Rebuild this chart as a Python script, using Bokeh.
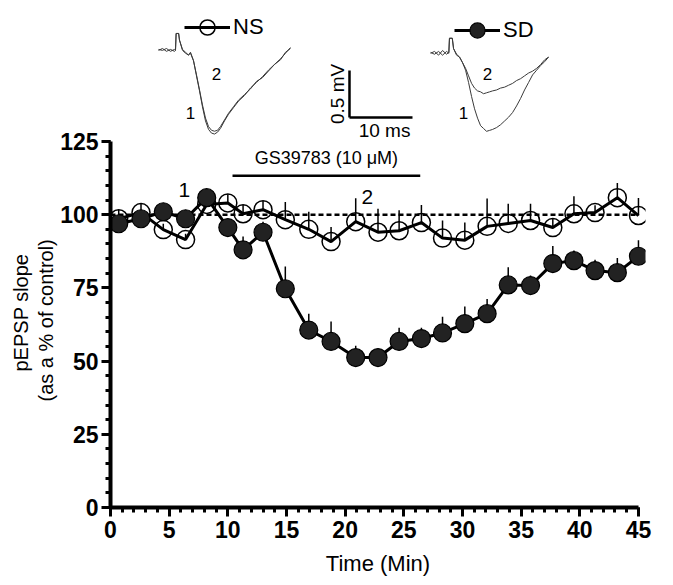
import math
from bokeh.plotting import figure
from bokeh.models import (Range1d, FixedTicker, Label, Legend, LegendItem,
                          ColumnDataSource, Title)
from bokeh.embed import file_html
from bokeh.resources import INLINE

# ---------------- data ----------------
TIME = [0.7, 2.6, 4.5, 6.4, 8.2, 10.0, 11.3, 13.0, 14.9, 16.9, 18.8, 20.9, 22.8,
        24.6, 26.5, 28.3, 30.2, 32.1, 33.9, 35.8, 37.7, 39.5, 41.3, 43.2, 45.0]
NS = [98.6, 100.7, 94.9, 91.5, 103.5, 104.0, 100.3, 101.7, 98.3, 95.0, 90.8, 97.6,
      94.0, 94.5, 97.3, 92.0, 91.3, 96.0, 97.0, 98.0, 95.6, 100.3, 100.7, 105.8, 99.7]
NS_SEM = [3, 3, 2, 2, 2, 3, 3, 3, 6, 6, 5, 8, 8, 7, 6, 6, 6, 9.5, 6.7, 5.7, 3, 6,
          2.5, 5, 6]
SD = [96.9, 98.6, 101.0, 98.6, 105.8, 95.6, 88.0, 94.0, 74.7, 60.6, 56.7, 51.2,
      51.2, 56.7, 57.7, 59.6, 62.8, 66.2, 76.0, 75.8, 83.3, 84.3, 80.9, 80.2, 85.8]
SD_SEM = [2, 2, 2, 2, 2, 2, 4.5, 3.6, 7.6, 5.6, 6.8, 4, 2, 4.7, 3.7, 5.5, 5.8, 5,
          6, 3.4, 6, 3.5, 3.7, 5, 5.5]

CONTROL = 100
DRUG_START, DRUG_END = 10.4, 26.4
DRUG_LABEL = "GS39783 (10 μM)"
Y_LABEL_1 = "pEPSP slope"
Y_LABEL_2 = "(as a % of control)"
X_LABEL = "Time (Min)"

# example traces (ms, mV)
NS_T = [0, 0.63, 1.27, 1.9, 2.54, 2.7, 2.8, 3.2, 3.33, 3.81, 4.29, 4.76, 5.08, 5.56,
        6.03, 6.51, 6.98, 7.46, 7.94, 8.41, 8.89, 9.37, 9.84, 10.48, 11.11, 11.9,
        12.7, 13.65, 14.6, 15.56, 16.51, 17.46, 18.41, 19.37, 20.16, 20.95]
NS_V1 = [0, 0.02, -0.01, 0.01, -0.01, 0.0, 0.18, 0.18, 0.11, 0.0, -0.03, -0.05,
         -0.02, -0.11, -0.27, -0.43, -0.6, -0.75, -0.84, -0.88, -0.89, -0.87, -0.83,
         -0.75, -0.68, -0.61, -0.54, -0.48, -0.4, -0.34, -0.28, -0.21, -0.15, -0.09,
         -0.03, 0.03]
NS_V2 = [0.01, 0.0, 0.02, -0.01, 0.01, 0.0, 0.18, 0.18, 0.11, 0.01, -0.02, -0.05,
         -0.03, -0.11, -0.26, -0.42, -0.58, -0.72, -0.81, -0.85, -0.86, -0.85, -0.81,
         -0.74, -0.67, -0.6, -0.53, -0.47, -0.41, -0.33, -0.29, -0.22, -0.15, -0.1,
         -0.02, 0.02]
SD_T = [0, 0.63, 1.27, 1.9, 2.54, 2.9, 3.0, 3.45, 3.65, 4.13, 4.6, 5.08, 5.56, 6.03,
        6.51, 6.98, 7.46, 7.94, 8.41, 8.89, 9.37, 9.84, 10.48, 11.11, 11.75, 12.38,
        13.02, 13.65, 14.29, 14.92, 15.56, 16.19, 16.83, 17.46, 18.1, 18.73]
SD_V1 = [0, 0.02, -0.02, 0.03, -0.01, 0.01, 0.16, 0.16, 0.05, -0.02, -0.04, -0.1,
         -0.18, -0.31, -0.46, -0.59, -0.69, -0.77, -0.8, -0.83, -0.82, -0.81, -0.79,
         -0.76, -0.72, -0.68, -0.63, -0.56, -0.48, -0.39, -0.31, -0.23, -0.18, -0.13,
         -0.09, -0.04]
SD_V2 = [0.01, -0.01, 0.02, -0.02, 0.02, 0.0, 0.16, 0.16, 0.05, -0.01, -0.04, -0.1,
         -0.16, -0.24, -0.32, -0.37, -0.4, -0.41, -0.43, -0.42, -0.41, -0.4, -0.39,
         -0.37, -0.36, -0.34, -0.32, -0.29, -0.27, -0.24, -0.21, -0.19, -0.16, -0.12,
         -0.07, -0.04]
SCALE_MS, SCALE_MV = 10, 0.5

# ---------------- layout constants ----------------
FONT = "Liberation Sans"
MS_TO_MIN = 0.537     # inset horizontal scale
MV_TO_PCT = 32.1      # inset vertical scale
NS_ORIGIN = (4.09, 156.1)
SD_ORIGIN = (27.28, 155.1)
BAR_ORIGIN = (20.37, 133.2)

p = figure(width=665, height=582, x_range=Range1d(0, 45.6), y_range=Range1d(0, 170.4),
           output_backend="svg", toolbar_location=None,
           min_border_left=110, min_border_right=20, min_border_top=8,
           min_border_bottom=75)
p.outline_line_color = None
p.xgrid.visible = False
p.ygrid.visible = False
p.background_fill_color = "white"

for ax in (p.xaxis[0], p.yaxis[0]):
    ax.axis_line_width = 4
    ax.axis_line_color = "black"
    ax.major_tick_line_width = 3
    ax.minor_tick_line_width = 3
    ax.major_tick_out = 9
    ax.major_tick_in = 0
    ax.minor_tick_out = 5
    ax.minor_tick_in = 0
    ax.major_label_text_font = FONT
    ax.major_label_text_font_style = "bold"
    ax.major_label_text_font_size = "23px"
    ax.major_label_text_color = "black"

p.xaxis.bounds = (0, 45)
p.xaxis.ticker = FixedTicker(ticks=list(range(0, 46, 5)), minor_ticks=list(range(0, 46)))
p.xaxis.major_label_standoff = 4
p.xaxis.axis_label = X_LABEL
p.xaxis.axis_label_text_font = FONT
p.xaxis.axis_label_text_font_style = "normal"
p.xaxis.axis_label_text_font_size = "22px"
p.xaxis.axis_label_text_color = "black"
p.xaxis.axis_label_standoff = 10

p.yaxis.bounds = (0, 125)
p.yaxis.ticker = FixedTicker(ticks=list(range(0, 126, 25)), minor_ticks=list(range(0, 126, 5)))
p.yaxis.major_label_standoff = 3

# y-axis title (two centred lines, centred on the 0-125 span)
p.add_layout(Title(text=Y_LABEL_2, align="left", offset=106, standoff=2,
                   text_font=FONT, text_font_size="20px", text_font_style="normal",
                   text_color="black"), "left")
p.add_layout(Title(text=Y_LABEL_1, align="left", offset=136, standoff=0,
                   text_font=FONT, text_font_size="20px", text_font_style="normal",
                   text_color="black"), "left")

# control line
p.segment(x0=[0], y0=[CONTROL], x1=[45], y1=[CONTROL], line_color="black",
          line_width=2.5, line_dash="5 3")

# drug bar
p.segment(x0=[DRUG_START], y0=[113.3], x1=[DRUG_END], y1=[113.3],
          line_color="black", line_width=2.5)
p.add_layout(Label(x=(DRUG_START + DRUG_END) / 2, y=116.0, text=DRUG_LABEL,
                   text_align="center", text_baseline="bottom", text_font=FONT,
                   text_font_size="18px", text_color="black"))

ns_src = ColumnDataSource(dict(x=TIME, y=NS, top=[v + e for v, e in zip(NS, NS_SEM)]))
sd_src = ColumnDataSource(dict(x=TIME, y=SD, top=[v + e for v, e in zip(SD, SD_SEM)]))

# NS
p.segment(x0="x", y0="y", x1="x", y1="top", source=ns_src, line_color="black", line_width=1.5)
ns_pts = p.scatter("x", "y", source=ns_src, size=18, marker="circle", fill_alpha=0,
                   line_color="black", line_width=1.5)
ns_line = p.line("x", "y", source=ns_src, line_color="black", line_width=3)
# SD
p.segment(x0="x", y0="y", x1="x", y1="top", source=sd_src, line_color="black", line_width=1.5)
sd_line = p.line("x", "y", source=sd_src, line_color="black", line_width=3)
sd_pts = p.scatter("x", "y", source=sd_src, size=18, marker="circle",
                   fill_color="#222222", line_color="black", line_width=1.2)

# time point labels
for txt, xx, yy in (("1", 6.3, 108.5), ("2", 21.9, 106.0)):
    p.add_layout(Label(x=xx, y=yy, text=txt, text_align="center", text_baseline="middle",
                       text_font=FONT, text_font_size="21px", text_color="black"))

# inset traces
def trace(t, v, origin):
    return ([origin[0] + a * MS_TO_MIN for a in t], [origin[1] + b * MV_TO_PCT for b in v])

for t, v, org in ((NS_T, NS_V1, NS_ORIGIN), (NS_T, NS_V2, NS_ORIGIN),
                  (SD_T, SD_V1, SD_ORIGIN), (SD_T, SD_V2, SD_ORIGIN)):
    xs, ys = trace(t, v, org)
    p.line(xs, ys, line_color="#3a3a3a", line_width=1)

for txt, xx, yy in (("2", 9.04, 148.2), ("1", 6.82, 134.6),
                    ("2", 32.14, 147.9), ("1", 30.09, 134.6)):
    p.add_layout(Label(x=xx, y=yy, text=txt, text_align="center", text_baseline="middle",
                       text_font=FONT, text_font_size="17px", text_color="black"))

# scale bar
bx, by = BAR_ORIGIN
p.segment(x0=[bx, bx], y0=[by, by], x1=[bx + SCALE_MS * MS_TO_MIN, bx],
          y1=[by, by + SCALE_MV * MV_TO_PCT], line_color="black", line_width=2.5)
p.add_layout(Label(x=bx - 1.0, y=by + SCALE_MV * MV_TO_PCT / 2, text=f"{SCALE_MV} mV",
                   angle=math.pi / 2, text_align="center", text_baseline="middle",
                   text_font=FONT, text_font_size="19px", text_color="black"))
p.add_layout(Label(x=bx + SCALE_MS * MS_TO_MIN / 2 + 0.3, y=by - 0.8, text=f"{SCALE_MS} ms",
                   text_align="center", text_baseline="top",
                   text_font=FONT, text_font_size="19px", text_color="black"))

# legends
for label, rends, loc in (("NS", [ns_line, ns_pts], (74, 461)),
                          ("SD", [sd_line, sd_pts], (344, 458))):
    lg = Legend(items=[LegendItem(label=label, renderers=rends)], location=loc,
                orientation="horizontal", padding=0, margin=0, spacing=0,
                glyph_width=46, glyph_height=38, label_standoff=3,
                label_text_font=FONT, label_text_font_size="22px",
                label_text_color="black",
                label_text_baseline="middle", label_height=38,
                border_line_alpha=0, background_fill_alpha=0)
    p.add_layout(lg)

open("out.html", "w").write(file_html(p, INLINE))
